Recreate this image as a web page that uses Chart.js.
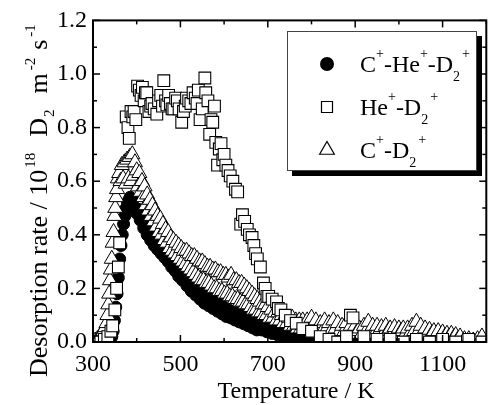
<!DOCTYPE html>
<html><head><meta charset="utf-8">
<script src="https://cdn.jsdelivr.net/npm/chart.js@4.4.0/dist/chart.umd.min.js"></script>
<style>
html,body{margin:0;padding:0;background:#fff;overflow:hidden;width:493px;height:405px}
#wrap{position:absolute;left:0;top:0;width:496px;height:405px}
</style>
</head><body><div id="wrap"><canvas id="c" width="496" height="405" style="width:496px;height:405px"></canvas></div>
<script>
// ---- axis ticks ----
const xTicks=[300,500,700,900,1100];
const xMinor=[400,600,800,1000,1200];
const yTicks=[0,0.2,0.4,0.6,0.8,1.0,1.2];
const yMinor=[0.1,0.3,0.5,0.7,0.9,1.1];

// ---- series names ----
const seriesNames=['C+-He+-D2+','He+-D2+','C+-D2+'];

// ---- C+-He+-D2+ (filled circles) ----
const tempCHe=[328,334,339,343,346,349,352,355,358,361,364,367,370,373,376,379,382,385,388,391,394,397,400,
404,408,412,416,420,424,428,432,436,440,444,448,452,456,460,464,468,472,476,480,484,488,492,496,500,
505,510,515,520,525,530,535,540,545,550,555,560,565,570,575,580,585,590,595,600,605,610,615,620,625,630,635,640,645,650,655,660,665,670,675,680,
686,692,698,704,710,716,722,728,734,740,746,752,758,764,770,
778,786,794,802,810,
820,830,840,850,860,870,880,890,900,910,920,930,940,950,960,970,980,990,1000,1010,1020,1030,1040,1050,1060,1070,1080,1090,1100,1110,1120,1130,1140,1150,1160,1170,1180,1190];
const rateCHe=[0.00,0.00,0.01,0.02,0.04,0.08,0.13,0.18,0.24,0.31,0.36,0.40,0.44,0.47,0.50,0.52,0.53,0.54,0.52,0.53,0.50,0.50,0.48,
0.495,0.455,0.465,0.425,0.435,0.40,0.415,0.38,0.395,0.36,0.375,0.345,0.36,0.33,0.345,0.315,0.33,0.30,0.31,0.28,0.295,0.265,0.275,0.245,0.26,
0.23,0.25,0.21,0.23,0.19,0.215,0.175,0.195,0.16,0.185,0.145,0.17,0.135,0.16,0.125,0.15,0.115,0.14,0.105,0.13,0.095,0.12,0.09,0.115,0.082,0.108,0.075,0.10,0.068,0.095,0.061,0.087,0.053,0.079,0.045,0.07,
0.045,0.06,0.038,0.052,0.032,0.045,0.027,0.038,0.022,0.032,0.018,0.027,0.015,0.022,0.012,
0.018,0.01,0.015,0.008,0.012,
0.006,0.01,0.005,0.009,0.004,0.008,0.005,0.009,0.004,0.008,0.005,0.009,0.004,0.008,0.005,0.009,0.004,0.008,0.005,0.009,
0.004,0.008,0.005,0.009,0.004,0.008,0.005,0.009,0.004,0.008,0.005,0.009,0.004,0.008,0.005,0.009,0.004,0.008];

// ---- He+-D2+ (open squares) ----
const tempHe=[318,326,334,341,345,350,354,358,361,376,380,383,387,391,394,398,402,406,410,413,417,420,423,428,432,435,440,446,450,455,459,462,466,469,473,477,481,485,489,493,497,503,507,511,514,519,524,529,534,538,541,545,550,556,558,563,567,570,574,578,581,585,589,593,597,600,604,609,614,620,626,631,638,642,647,653,658,664,668,672,676,683,690,694,698,702,710,720,724,730,740,752,765,780,800,820,840,860,880,889,895,920,950,980,1010,1040,1070,1100,1130,1160,1190];
const rateHe=[0.00,0.01,0.02,0.04,0.06,0.12,0.20,0.28,0.37,0.84,0.80,0.76,0.86,0.84,0.86,0.83,0.955,0.94,0.92,0.95,0.90,0.93,0.93,0.86,0.88,0.89,0.87,0.85,0.90,0.92,0.88,0.975,0.90,0.885,0.92,0.89,0.87,0.87,0.91,0.90,0.87,0.82,0.86,0.88,0.91,0.90,0.89,0.93,0.91,0.89,0.94,0.83,0.87,0.985,0.93,0.90,0.775,0.83,0.82,0.88,0.745,0.66,0.72,0.74,0.68,0.70,0.66,0.64,0.62,0.60,0.57,0.56,0.44,0.475,0.45,0.42,0.40,0.39,0.36,0.33,0.31,0.28,0.22,0.20,0.17,0.17,0.16,0.15,0.125,0.12,0.10,0.08,0.07,0.05,0.04,0.02,0.01,0.00,0.02,0.10,0.09,0.02,0.01,0.01,0.00,0.01,0.00,0.01,0.00,0.01,0.00];

// ---- C+-D2+ (open triangles) ----
const tempCD=[300,305,310,315,320,324,328,331,333,335,337,339,341,343,345,347,349,351,353,355,357,360,363,366,369,372,375,378,381,384,387,390,393,396,
400,403,406,409,412,415,418,421,424,427,
430,433,436,439,442,445,448,451,454,457,
460,463,466,469,472,475,478,481,484,487,
490,493,496,499,502,505,508,511,514,517,
520,523,526,529,532,535,538,541,544,547,
550,553,556,559,562,565,568,571,574,577,
580,583,586,589,592,595,598,601,604,607,
610,613,616,619,622,625,628,631,634,637,
640,643,646,649,652,655,658,661,664,667,
670,673,676,679,682,685,688,691,694,697,
700,
704,708,712,716,720,724,728,732,736,740,744,748,752,756,760,764,768,772,776,780,
785,790,795,800,805,810,815,820,825,830,
835,840,845,850,855,860,865,870,875,880,
885,890,895,900,905,910,915,920,925,930,
935,940,945,950,955,960,965,970,975,980,
985,990,995,1000,1005,1010,1015,1020,1025,1030,
1035,1040,1045,1050,1055,1060,1065,1070,1075,1080,
1085,1090,1095,1100,1105,1110,1115,1120,1125,1130,
1135,1140,
1150,1160,1170,1180,1190];
const rateCD=[0.00,0.005,0.01,0.02,0.03,0.04,0.055,0.07,0.10,0.14,0.18,0.23,0.27,0.31,0.37,0.41,0.47,0.50,0.54,0.57,0.61,0.63,0.60,0.66,0.61,0.67,0.59,0.68,0.61,0.69,0.60,0.70,0.62,0.67,
0.64,0.58,0.63,0.56,0.60,0.54,0.58,0.51,0.55,0.49,
0.53,0.47,0.51,0.45,0.49,0.43,0.47,0.41,0.46,0.40,
0.44,0.38,0.42,0.37,0.41,0.35,0.39,0.34,0.38,0.33,
0.37,0.32,0.36,0.31,0.35,0.30,0.34,0.29,0.34,0.28,
0.33,0.27,0.32,0.26,0.32,0.25,0.31,0.24,0.30,0.23,
0.30,0.23,0.29,0.22,0.28,0.22,0.28,0.21,0.27,0.20,
0.27,0.20,0.26,0.19,0.26,0.19,0.25,0.18,0.25,0.18,
0.24,0.17,0.25,0.17,0.23,0.16,0.23,0.16,0.22,0.15,
0.22,0.15,0.21,0.14,0.20,0.14,0.19,0.13,0.18,0.12,
0.17,0.12,0.16,0.11,0.15,0.11,0.14,0.10,0.14,0.10,
0.13,
0.09,0.12,0.09,0.11,0.08,0.11,0.08,0.10,0.07,0.10,0.07,0.09,0.06,0.09,0.06,0.08,0.05,0.08,0.05,0.08,
0.05,0.08,0.05,0.09,0.05,0.08,0.04,0.07,0.04,0.08,
0.05,0.07,0.04,0.08,0.05,0.07,0.04,0.06,0.04,0.07,
0.04,0.06,0.03,0.06,0.04,0.05,0.03,0.06,0.04,0.075,
0.04,0.06,0.03,0.06,0.04,0.055,0.03,0.06,0.04,0.05,
0.03,0.055,0.03,0.05,0.04,0.05,0.03,0.05,0.03,0.06,
0.04,0.075,0.04,0.06,0.03,0.05,0.03,0.045,0.03,0.04,
0.02,0.04,0.02,0.035,0.02,0.03,0.02,0.03,0.015,0.025,
0.01,0.02,
0.01,0.01,0.005,0.01,0.02];

const FONT='"Liberation Serif","Times New Roman",serif';
const toXY=(xs,ys)=>xs.map((t,i)=>({x:t,y:ys[i]}));

function drawRich(ctx,parts,x,y,size,small,supDy,subDy){
  let cx=x;
  for(const p of parts){
    cx+=(p.g||0);
    ctx.font=(p.s?small:size)+'px '+FONT;
    const dy=p.s===1?-supDy:(p.s===-1?subDy:0);
    ctx.fillText(p.t,cx,y+dy);
    cx+=ctx.measureText(p.t).width;
  }
  return cx-x;
}

function marker(ctx,type,x,y){
  ctx.save();
  ctx.lineWidth=1.2;ctx.strokeStyle='#000';
  ctx.beginPath();
  if(type==='circle'){ctx.arc(x,y,7,0,Math.PI*2);ctx.fillStyle='#000';ctx.fill();}
  else if(type==='rect'){ctx.fillStyle='#fff';ctx.rect(x-5.5,y-5.5,11,11);ctx.fill();ctx.stroke();}
  else {ctx.fillStyle='#fff';const r=8.5;ctx.moveTo(x,y-r);ctx.lineTo(x+r*0.866,y+r*0.5);ctx.lineTo(x-r*0.866,y+r*0.5);ctx.closePath();ctx.fill();ctx.stroke();}
  ctx.restore();
}

const decor={
  id:'decor',
  afterDatasetsDraw(chart){
    const {ctx,chartArea:a,scales:{x,y}}=chart;
    ctx.save();
    ctx.strokeStyle='#000';
    ctx.lineWidth=2;
    ctx.strokeRect(a.left,a.top,a.right-a.left,a.bottom-a.top);
    ctx.lineWidth=1.5;
    const seg=(x1,y1,x2,y2)=>{ctx.beginPath();ctx.moveTo(x1,y1);ctx.lineTo(x2,y2);ctx.stroke();};
    xTicks.forEach(v=>{const p=x.getPixelForValue(v);seg(p,a.bottom,p,a.bottom-7);seg(p,a.top,p,a.top+7);});
    xMinor.forEach(v=>{const p=x.getPixelForValue(v);seg(p,a.bottom,p,a.bottom-4);seg(p,a.top,p,a.top+4);});
    yTicks.forEach(v=>{const p=y.getPixelForValue(v);seg(a.left,p,a.left+7,p);seg(a.right,p,a.right-7,p);});
    yMinor.forEach(v=>{const p=y.getPixelForValue(v);seg(a.left,p,a.left+4,p);seg(a.right,p,a.right-4,p);});
    ctx.restore();
  },
  afterDraw(chart){
    const ctx=chart.ctx;
    ctx.save();
    ctx.fillStyle='#000';
    ctx.textBaseline='alphabetic';
    // x title
    ctx.font='24px '+FONT;
    ctx.textAlign='center';
    ctx.fillText('Temperature / K',296,398);
    ctx.textAlign='left';
    // y title
    ctx.save();
    ctx.translate(47,377);
    ctx.rotate(-Math.PI/2);
    drawRich(ctx,[{t:'Desorption rate / 10'},{t:'18',s:1,g:2},{t:'D',g:16},{t:'2',s:-1,g:1},{t:'m',g:16},{t:'-2',s:1,g:3},{t:'s',g:8},{t:'-1',s:1,g:3}],0,0,26,15,12,7);
    ctx.restore();
    // legend
    const L=287,T=31,W=190,H=140;
    ctx.fillStyle='#000';
    ctx.fillRect(L+5,T+5,W,H);
    ctx.fillStyle='#fff';
    ctx.fillRect(L,T,W,H);
    ctx.strokeStyle='#444';ctx.lineWidth=1;
    ctx.strokeRect(L+0.5,T+0.5,W-1,H-1);
    const rows=[
      {m:'circle',y:72,parts:[{t:'C'},{t:'+',s:1},{t:'-He'},{t:'+',s:1},{t:'-D'},{t:'2',s:-1},{t:'+',s:1,g:2}]},
      {m:'rect',y:115,parts:[{t:'He'},{t:'+',s:1},{t:'-D'},{t:'2',s:-1},{t:'+',s:1,g:2}]},
      {m:'tri',y:158,parts:[{t:'C'},{t:'+',s:1},{t:'-D'},{t:'2',s:-1},{t:'+',s:1,g:2}]}
    ];
    rows.forEach(r=>{
      marker(ctx,r.m,327,r.y-8);
      ctx.fillStyle='#000';
      drawRich(ctx,r.parts,360,r.y,24,14,14,9);
    });
    ctx.restore();
  }
};

new Chart(document.getElementById('c'),{
  type:'scatter',
  data:{datasets:[
    {label:seriesNames[1],data:toXY(tempHe,rateHe),pointStyle:'rect',pointRadius:8.3,backgroundColor:'#fff',borderColor:'#000',borderWidth:1.1},
    {label:seriesNames[2],data:toXY(tempCD,rateCD),pointStyle:'triangle',pointRadius:8.7,backgroundColor:'#fff',borderColor:'#000',borderWidth:1},
    {label:seriesNames[0],data:toXY(tempCHe,rateCHe),pointStyle:'circle',pointRadius:6,backgroundColor:'#000',borderColor:'#000',borderWidth:1}
  ]},
  plugins:[decor],
  options:{
    responsive:false,animation:false,devicePixelRatio:1,
    layout:{padding:{top:16.5,right:2.5,left:0,bottom:0}},
    plugins:{legend:{display:false},tooltip:{enabled:false}},
    scales:{
      x:{type:'linear',min:300,max:1200,
        afterBuildTicks:s=>{s.ticks=xTicks.map(v=>({value:v}));},
        afterFit:s=>{s.height=63;},
        grid:{display:false,drawTicks:false},border:{display:false},
        ticks:{padding:8,color:'#000',font:{family:FONT,size:24},maxRotation:0,autoSkip:false,callback:v=>String(v)}},
      y:{type:'linear',min:0,max:1.2,
        afterBuildTicks:s=>{s.ticks=yTicks.map(v=>({value:v}));},
        afterFit:s=>{s.width=93;},
        grid:{display:false,drawTicks:false},border:{display:false},
        ticks:{padding:6,color:'#000',font:{family:FONT,size:24},autoSkip:false,callback:v=>v.toFixed(1)}}
    }
  }
});
</script></body></html>
